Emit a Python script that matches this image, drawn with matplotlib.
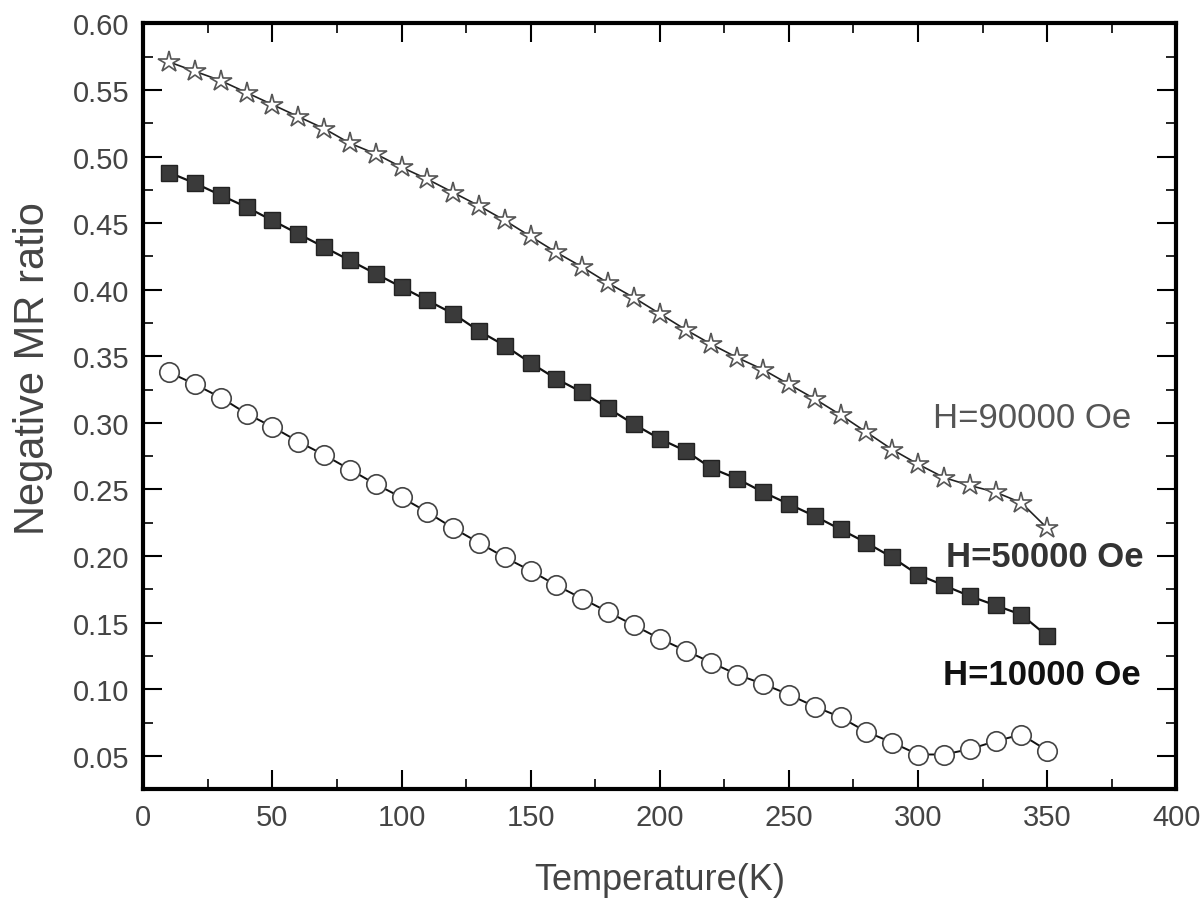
import numpy as np
import matplotlib
matplotlib.use("Agg")
import matplotlib.pyplot as plt
from matplotlib.ticker import MultipleLocator

plt.rcParams['font.family'] = ['Liberation Sans', 'DejaVu Sans']

temps = [10, 20, 30, 40, 50, 60, 70, 80, 90, 100, 110, 120, 130, 140, 150, 160, 170, 180,
         190, 200, 210, 220, 230, 240, 250, 260, 270, 280, 290, 300, 310, 320, 330, 340, 350]

mr_90000 = [0.571, 0.564, 0.557, 0.548, 0.539, 0.530, 0.521, 0.510, 0.502, 0.492, 0.483,
            0.473, 0.463, 0.452, 0.440, 0.428, 0.417, 0.405, 0.394, 0.382, 0.370, 0.359,
            0.349, 0.340, 0.329, 0.318, 0.306, 0.293, 0.280, 0.269, 0.259, 0.253, 0.248,
            0.240, 0.221]

mr_50000 = [0.488, 0.480, 0.471, 0.462, 0.452, 0.442, 0.432, 0.422, 0.412, 0.402, 0.392,
            0.382, 0.369, 0.358, 0.345, 0.333, 0.323, 0.311, 0.299, 0.288, 0.279, 0.266,
            0.258, 0.248, 0.239, 0.230, 0.220, 0.210, 0.199, 0.186, 0.178, 0.170, 0.163,
            0.156, 0.140]

mr_10000 = [0.338, 0.329, 0.319, 0.307, 0.297, 0.286, 0.276, 0.265, 0.254, 0.244, 0.233,
            0.221, 0.210, 0.199, 0.189, 0.178, 0.168, 0.158, 0.148, 0.138, 0.129, 0.120,
            0.111, 0.104, 0.096, 0.087, 0.079, 0.068, 0.060, 0.051, 0.051, 0.055, 0.061,
            0.066, 0.054]

labels = ["H=90000 Oe", "H=50000 Oe", "H=10000 Oe"]
label_pos = [(344, 0.304), (349, 0.200), (348, 0.111)]

fig = plt.figure(figsize=(12.04, 9.03), dpi=100)
ax = fig.add_axes([0.119, 0.125, 0.858, 0.848])

ax.plot(temps, mr_90000, color='#222222', lw=1.2, marker='*', ms=16,
        mfc='white', mec='#555555', mew=1.2)
ax.plot(temps, mr_50000, color='#111111', lw=1.6, marker='s', ms=11,
        mfc='#3a3a3a', mec='#222222', mew=1.0)
ax.plot(temps, mr_10000, color='#111111', lw=1.4, marker='o', ms=14,
        mfc='white', mec='#444444', mew=1.2)

ax.text(label_pos[0][0], label_pos[0][1], labels[0], fontsize=25, color='#555555',
        ha='center', va='center')
ax.text(label_pos[1][0], label_pos[1][1], labels[1], fontsize=25, color='#333333',
        ha='center', va='center', fontweight='bold')
ax.text(label_pos[2][0], label_pos[2][1], labels[2], fontsize=25, color='#111111',
        ha='center', va='center', fontweight='bold')

ax.set_xlim(0, 400)
ax.set_ylim(0.025, 0.60)
ax.xaxis.set_major_locator(MultipleLocator(50))
ax.xaxis.set_minor_locator(MultipleLocator(25))
ax.yaxis.set_major_locator(MultipleLocator(0.05))
ax.yaxis.set_minor_locator(MultipleLocator(0.025))
ax.yaxis.set_major_formatter(matplotlib.ticker.FormatStrFormatter('%.2f'))

ax.tick_params(which='both', direction='in', top=True, right=True,
               labelsize=21, labelcolor='#444444', pad=10)
ax.tick_params(which='major', length=14, width=1.5)
ax.tick_params(which='minor', length=7, width=1.2)
for s in ax.spines.values():
    s.set_linewidth(3)

ax.set_xlabel('Temperature(K)', fontsize=26, color='#444444', labelpad=22)
ax.set_ylabel('Negative MR ratio', fontsize=30, color='#444444', labelpad=14)
ax.yaxis.set_label_coords(-0.087, 0.55)

fig.savefig('out.png', dpi=100)
